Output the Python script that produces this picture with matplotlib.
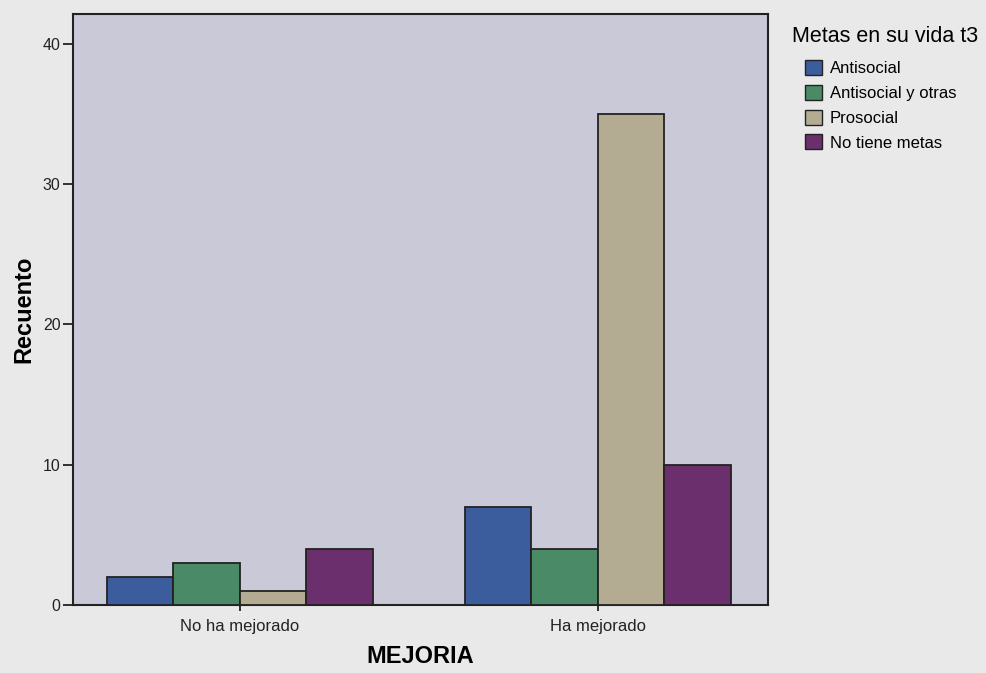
import numpy as np
import matplotlib.pyplot as plt
from matplotlib.patches import Patch

# datos
grupos = ['No ha mejorado', 'Ha mejorado']
metas = ['Antisocial', 'Antisocial y otras', 'Prosocial', 'No tiene metas']
antisocial = [2, 7]
antisocial_otras = [3, 4]
prosocial = [1, 35]
sin_metas = [4, 10]

colores = ['#3b5d9e', '#4b8a66', '#b3ab92', '#6b2f6e']
series = [antisocial, antisocial_otras, prosocial, sin_metas]

plt.rcParams['font.family'] = ['Liberation Sans', 'DejaVu Sans']

fig = plt.figure(figsize=(9.87, 6.73), dpi=100)
fig.patch.set_facecolor('#e9e9ea')
ax = fig.add_axes([0.074, 0.101, 0.704, 0.878])
ax.set_facecolor('#c9c9d8')

x = np.arange(len(grupos))
width = 0.186
for i, (vals, c) in enumerate(zip(series, colores)):
    ax.bar(x + (i - 1.5) * width, vals, width, color=c, edgecolor='#222222',
           linewidth=1.3, label=metas[i], zorder=3)

ax.set_xlim(-0.466, 1.475)
ax.set_ylim(0, 42.1)
ax.set_yticks([0, 10, 20, 30, 40])
ax.set_xticks(x)
ax.set_xticklabels(grupos, fontsize=12)
ax.tick_params(axis='y', labelsize=11.5, length=7, width=1.3, colors='#222222', pad=2)
ax.tick_params(axis='x', length=8, width=1.3, direction='inout', colors='#222222', pad=6)
for s in ax.spines.values():
    s.set_linewidth(1.5)
    s.set_color('#222222')

ax.set_ylabel('Recuento', fontsize=17, fontweight='bold', labelpad=5)
ax.set_xlabel('MEJORIA', fontsize=17, fontweight='bold', labelpad=8)

# leyenda: titulo aparte para alinear como en el original
fig.text(792 / 987, 1 - 37 / 673, 'Metas en su vida t3', fontsize=15.5, va='center', ha='left')
handles = [Patch(facecolor=c, edgecolor='#222222', label=m) for c, m in zip(colores, metas)]
fig.legend(handles=handles, loc='upper left', bbox_to_anchor=(805 / 987, 1 - 60 / 673),
           frameon=False, fontsize=12, borderpad=0, borderaxespad=0,
           handlelength=1.0, handleheight=1.0, labelspacing=0.52, handletextpad=0.5)

fig.savefig('out.png', dpi=100, facecolor=fig.get_facecolor())
